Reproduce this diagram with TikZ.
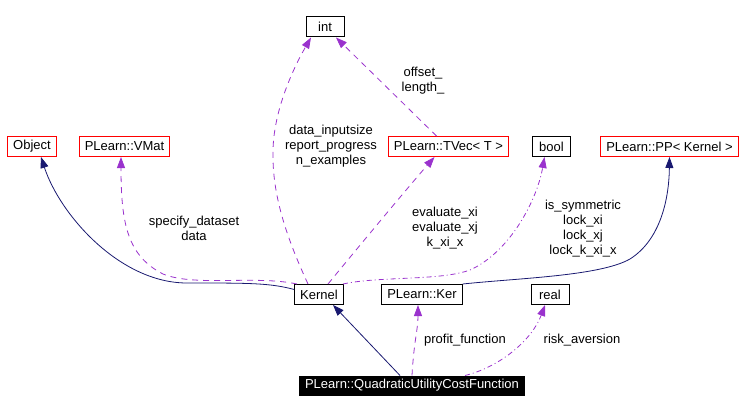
\documentclass[tikz,border=0pt]{standalone}
\usepackage{fontspec}
\setmainfont{Liberation Sans}
\usepackage{tikz}
\usetikzlibrary{arrows.meta}
\definecolor{edgeblue}{RGB}{25,25,112}
\definecolor{edgepurple}{RGB}{154,50,205}

\begin{document}
\begin{tikzpicture}[x=1pt, y=-1pt,
    font=\fontsize{13}{15}\selectfont,
    box/.style={draw, line width=1pt, minimum height=20pt, minimum width=38pt,
      inner xsep=5.5pt, inner ysep=0pt},
    redbox/.style={box, draw=red},
    mainbox/.style={box, fill=black, text=white, minimum height=19pt},
    inh/.style={edgeblue, line width=0.8pt, -{Triangle[length=11pt,width=8pt]}},
    use/.style={edgepurple, line width=0.8pt, dash pattern=on 6pt off 5pt,
      -{Triangle[length=11pt,width=8pt]}},
    usedd/.style={use, dash pattern=on 5pt off 3pt on 1pt off 3pt},
    lbl/.style={align=center, inner sep=0pt}]
  \useasboundingbox (0,0) rectangle (744,412);

  % Classi
  \node[redbox] (object) at (32,146.5) {Object};
  \node[redbox] (vmat) at (124.5,146.5) {PLearn::VMat};
  \node[box] (int) at (325,27) {int};
  \node[redbox] (tvec) at (448.5,146.5) {PLearn::TVec< T >};
  \node[box] (bool) at (551.5,146.5) {bool};
  \node[redbox] (pp) at (669.5,146.5) {PLearn::PP< Kernel >};
  \node[box] (kernel) at (319,294.5) {Kernel};
  \node[box] (ker) at (422,294.5) {PLearn::Ker};
  \node[box] (real) at (550,294.5) {real};
  \node[mainbox] (qucf) at (412,385.5) {PLearn::QuadraticUtilityCostFunction};

  % Ereditarieta
  \draw[inh] ([yshift=5pt]kernel.west) .. controls (270,283) and (250,283) .. (187,283)
    .. controls (120,283) and (60,215) .. ([xshift=9pt]object.south);
  \draw[inh] (ker.north east) .. controls (520,278) and (600,276) .. (630,259)
    .. controls (660,240) and (669,200) .. (pp.south);
  \draw[inh] ([xshift=-12pt]qucf.north) -- ([xshift=14pt]kernel.south);

  % Membri usati
  \draw[use] ([xshift=-22pt]kernel.north) .. controls (255,275) and (195,287) .. (163,274)
    .. controls (128,256) and (121,225) .. ([xshift=-3.5pt]vmat.south);
  \draw[use] ([xshift=-11pt]kernel.north) .. controls (283,230) and (272,190) .. (273,150)
    .. controls (274,105) and (298,60) .. ([xshift=-14pt]int.south);
  \draw[use] ([xshift=9pt]kernel.north) .. controls (360,245) and (410,185)
    .. ([xshift=-14pt]tvec.south);
  \draw[use] ([xshift=-12pt]tvec.north) -- ([xshift=11pt]int.south);
  \draw[usedd] ([xshift=24pt]kernel.north) .. controls (380,276) and (440,281) .. (470,270)
    .. controls (510,252) and (537,200) .. ([xshift=-7pt]bool.south);
  \draw[use] (qucf.north) .. controls (414,340) and (418,330) .. ([xshift=-4pt]ker.south);
  \draw[usedd] ([xshift=53pt]qucf.north) .. controls (500,367) and (532,340)
    .. ([xshift=-5pt]real.south);

  % Etichette
  \node[lbl] (lint) at (331,146) {data\_inputsize\\report\_progress\\n\_examples};
  \node[lbl] (loff) at (423,80.5) {offset\_\\length\_};
  \node[lbl] (lvmat) at (194,228) {specify\_dataset\\data};
  \node[lbl] (ltvec) at (445,228) {evaluate\_xi\\evaluate\_xj\\k\_xi\_x};
  \node[lbl] (lbool) at (583,228.5) {is\_symmetric\\lock\_xi\\lock\_xj\\lock\_k\_xi\_x};
  \node[lbl] (lker) at (465,340) {profit\_function};
  \node[lbl] (lreal) at (582,340) {risk\_aversion};
\end{tikzpicture}
\end{document}
